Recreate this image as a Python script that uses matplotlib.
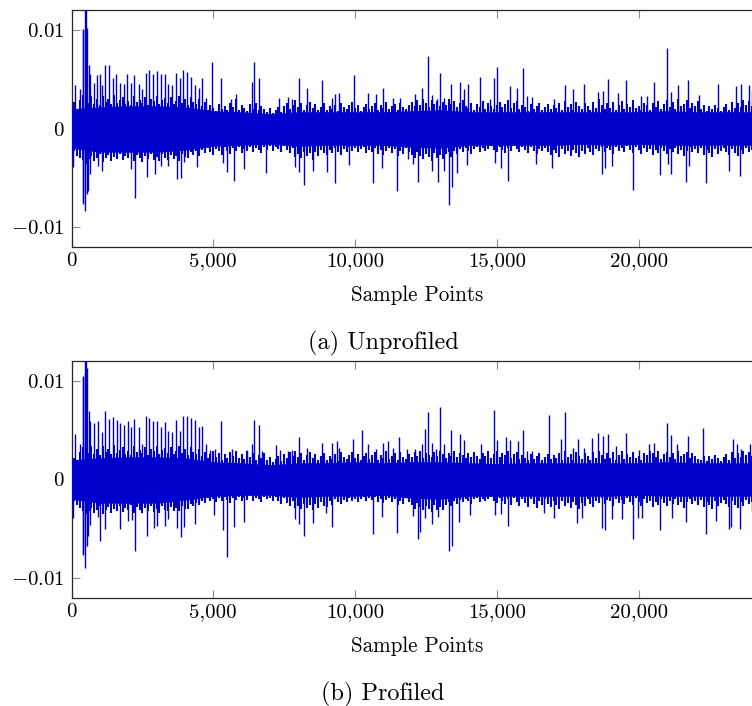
import numpy as np
import matplotlib
matplotlib.use("Agg")
import matplotlib.pyplot as plt

plt.rcParams['mathtext.fontset'] = 'cm'
plt.rcParams['font.family'] = ['cmr10', 'DejaVu Serif']
plt.rcParams['axes.formatter.use_mathtext'] = True
plt.rcParams['axes.unicode_minus'] = False

CORE_STEP = 1000
MID_STEP = 100
a_core_hi = [2.0,2.2,2.3,2.3,2.2,1.8,1.7,1.5,1.7,1.7,1.7,1.7,1.8,1.9,1.7,1.7,1.7,1.7,1.7,1.7,1.7,1.8,1.7,1.7,1.7]
a_core_lo = [-2.0,-2.4,-2.4,-2.4,-2.2,-1.8,-1.7,-1.6,-1.8,-1.7,-1.7,-1.7,-1.9,-2.0,-1.7,-1.7,-1.7,-1.7,-1.6,-1.7,-1.6,-1.7,-1.7,-1.7,-1.7]
b_core_hi = [2.0,2.2,2.3,2.3,2.2,1.8,1.7,1.5,1.7,1.7,1.8,1.7,1.8,1.8,1.7,1.6,1.7,1.7,1.7,1.7,1.7,1.8,1.7,1.7,1.7]
b_core_lo = [-2.0,-2.4,-2.4,-2.4,-2.1,-1.7,-1.6,-1.6,-1.8,-1.7,-1.7,-1.6,-1.9,-2.0,-1.7,-1.7,-1.7,-1.7,-1.7,-1.7,-1.6,-1.7,-1.7,-1.7,-1.7]

a_mid_hi = [2.2,2.7,2.0,2.9,3.4,3.1,2.6,3.3,2.5,3.0,
            2.4,3.3,2.7,3.0,2.5,3.4,2.6,2.9,3.2,2.5,
            2.8,2.4,3.3,2.7,2.9,2.6,3.2,2.4,3.0,2.8,
            3.3,2.5,2.9,3.1,2.6,3.2,2.5,2.8,3.3,2.6,
            3.0,2.4,3.2,2.7,2.5,3.0,2.3,2.7,1.9,2.4,
            2.1,1.8,2.5,2.0,2.3,1.9,2.6,2.2,3.0,1.9,
            2.4,2.1,1.8,2.5,2.0,2.6,1.9,2.3,2.0,1.7,
            2.1,1.6,1.9,2.2,1.7,2.3,2.6,2.0,2.4,2.9,
            2.2,2.6,1.9,2.4,2.7,2.1,2.5,1.9,2.2,2.6,
            1.9,2.3,2.0,2.4,1.8,2.6,2.2,2.0,2.4,2.7,
            2.1,2.4,1.8,2.2,2.5,2.0,2.3,2.6,1.9,2.4,
            2.1,2.7,2.0,2.3,2.5,1.9,2.6,2.2,2.0,2.4,
            2.7,2.3,2.9,2.4,3.0,2.6,2.2,2.9,2.5,2.8,
            2.3,2.7,2.4,3.0,2.5,2.8,2.2,2.6,2.9,2.3,
            2.1,2.6,1.9,2.5,2.2,2.8,2.0,2.6,2.3,2.0,
            2.4,2.7,2.2,2.5,2.9,2.1,2.6,2.8,2.0,2.4,
            2.2,1.8,2.5,2.0,2.3,2.6,1.9,2.2,2.5,2.0,
            2.4,2.1,2.6,1.9,2.8,2.2,2.5,1.9,2.7,2.3,
            2.0,2.6,2.3,1.9,2.7,2.1,3.0,2.4,2.0,2.6,
            2.1,2.7,1.9,2.4,2.8,2.0,2.5,2.2,2.9,2.1,
            2.3,1.9,2.6,2.4,1.9,2.6,2.2,2.8,2.0,2.5,
            2.9,2.2,2.7,2.0,3.0,2.3,2.5,2.9,2.1,2.6,
            2.3,2.8,2.0,2.4,1.8,2.3,2.0,2.4,2.1,1.8,
            2.2,2.5,1.9,2.7,2.1,2.6,2.2,2.9,2.4,2.8,
            2.3]
a_mid_lo = [-2.6,-2.3,-2.8,-3.0,-3.2,-3.6,-3.1,-2.8,-3.3,-3.0,
            -2.6,-3.4,-3.0,-2.7,-3.3,-2.9,-3.1,-2.6,-3.2,-2.8,
            -3.0,-2.5,-3.3,-2.7,-3.0,-3.4,-2.8,-3.1,-2.6,-3.2,
            -2.9,-3.3,-2.6,-3.0,-3.2,-2.7,-3.1,-2.8,-3.3,-2.6,
            -2.9,-3.0,-2.4,-2.7,-2.3,-2.8,-2.2,-2.5,-2.0,-2.4,
            -2.7,-2.1,-2.3,-2.7,-1.9,-2.3,-2.6,-2.0,-2.3,-1.9,
            -2.5,-2.1,-2.3,-1.9,-2.4,-2.0,-2.2,-2.5,-1.9,-2.2,
            -1.8,-2.3,-1.9,-2.1,-2.4,-1.8,-2.2,-2.5,-2.0,-2.9,
            -2.6,-3.0,-2.4,-2.8,-2.5,-3.2,-2.4,-2.8,-2.2,-2.5,
            -2.7,-2.2,-2.5,-2.0,-2.4,-2.7,-2.1,-2.4,-1.9,-2.3,
            -2.0,-2.4,-2.1,-1.9,-2.5,-2.2,-2.4,-2.0,-2.6,-2.2,
            -2.7,-2.3,-2.0,-2.5,-2.1,-2.8,-2.3,-2.6,-2.0,-2.4,
            -2.7,-3.0,-2.4,-2.8,-3.1,-2.6,-2.9,-3.3,-2.5,-3.0,
            -2.7,-3.1,-2.6,-2.4,-2.9,-2.3,-2.6,-2.1,-2.4,-2.0,
            -2.3,-2.6,-2.1,-1.9,-2.4,-2.0,-2.3,-2.1,-1.8,-2.2,
            -2.4,-1.9,-2.2,-2.5,-2.0,-2.3,-1.8,-2.1,-2.4,-1.9,
            -2.2,-2.5,-1.9,-2.3,-2.6,-2.1,-2.3,-2.0,-2.4,-2.7,
            -2.2,-2.5,-2.9,-2.1,-2.6,-2.3,-2.8,-2.2,-2.5,-2.9,
            -2.3,-2.6,-2.0,-2.4,-2.7,-2.1,-2.3,-1.9,-2.4,-2.0,
            -2.2,-2.6,-1.9,-2.3,-2.0,-2.4,-1.8,-2.2,-2.5,-1.9,
            -2.2,-2.6,-2.0,-2.4,-2.1,-2.7,-2.2,-2.5,-2.0,-2.3,
            -2.6,-2.1,-2.4,-2.0,-2.6,-2.2,-2.8,-2.3,-1.9,-2.4,
            -2.1,-2.5,-2.0,-2.7,-2.2,-2.5,-2.9,-2.1,-2.6,-2.3,
            -2.0,-2.4,-2.7,-2.1,-2.5,-2.8,-2.2,-2.6,-2.0,-2.4,
            -2.2]
b_mid_hi = [2.0,2.2,1.9,2.8,3.3,3.0,2.7,3.4,2.6,3.1,
            2.5,3.4,2.8,3.1,2.6,3.5,2.7,3.0,3.3,2.6,
            2.9,2.5,3.4,2.8,3.0,2.7,3.3,2.5,3.1,2.9,
            3.4,2.6,3.0,3.2,2.7,3.3,2.6,2.9,3.4,2.7,
            3.1,2.5,3.3,2.8,2.6,3.1,2.4,2.8,2.2,2.6,
            2.9,2.3,2.7,2.0,2.6,2.2,2.8,2.4,2.9,2.2,
            2.6,2.1,2.9,2.3,2.7,2.0,2.5,2.2,2.7,2.0,
            2.3,1.8,2.1,2.4,1.9,2.6,2.2,2.8,2.4,2.9,
            2.3,2.7,2.0,2.5,2.8,2.2,2.6,2.0,2.4,2.7,
            2.0,2.4,2.1,2.6,1.9,2.8,2.3,2.1,2.5,2.8,
            2.2,2.6,2.0,2.4,2.7,2.1,2.5,2.8,2.0,2.5,
            2.2,2.9,2.1,2.4,2.7,2.0,2.8,2.3,2.1,2.6,
            2.3,2.8,2.4,2.9,2.2,2.7,2.5,2.3,2.8,2.4,
            2.9,2.6,2.2,2.7,2.4,2.9,2.3,2.7,2.5,2.2,
            2.7,2.3,2.8,2.4,2.1,2.7,2.4,2.9,2.2,2.6,
            2.9,2.3,2.7,2.5,2.9,2.2,2.6,2.8,2.1,2.5,
            2.2,2.0,2.6,2.1,2.4,2.7,2.0,2.3,2.6,2.1,
            2.5,2.2,2.7,2.0,2.9,2.3,2.6,2.0,2.8,2.4,
            2.1,2.7,2.4,2.0,2.8,2.2,2.9,2.5,2.1,2.7,
            2.2,2.8,2.0,2.5,2.9,2.1,2.6,2.3,2.8,2.2,
            2.4,2.0,2.7,2.5,2.9,2.7,2.3,2.9,2.1,2.6,
            2.8,2.3,2.7,2.1,2.9,2.4,2.6,2.8,2.2,2.7,
            2.4,2.1,2.0,2.4,1.9,2.4,2.1,2.5,2.2,1.9,
            2.3,2.6,2.0,2.8,2.2,2.7,2.3,2.9,2.5,2.8,
            2.4]
b_mid_lo = [-2.4,-2.2,-2.6,-2.9,-3.2,-3.5,-3.2,-2.9,-3.4,-3.1,
            -2.7,-3.5,-3.1,-2.8,-3.4,-3.0,-3.2,-2.7,-3.3,-2.9,
            -3.1,-2.6,-3.4,-2.8,-3.1,-3.4,-2.9,-3.2,-2.7,-3.3,
            -3.0,-3.4,-2.7,-3.1,-3.2,-2.8,-3.2,-2.9,-3.2,-2.7,
            -3.0,-3.0,-2.5,-2.7,-2.4,-2.6,-2.2,-2.4,-1.9,-2.2,
            -2.0,-2.3,-1.9,-2.2,-1.8,-2.1,-2.4,-1.9,-2.1,-1.8,
            -2.2,-1.9,-2.1,-1.7,-2.2,-1.9,-2.0,-2.3,-1.8,-2.0,
            -1.9,-2.2,-1.8,-2.2,-2.5,-1.9,-2.4,-2.7,-2.2,-2.9,
            -2.7,-3.0,-2.5,-2.9,-2.6,-3.1,-2.5,-2.9,-2.3,-2.7,
            -2.8,-2.2,-2.6,-2.0,-2.3,-2.5,-2.1,-2.3,-1.9,-2.2,
            -2.0,-2.3,-2.0,-1.8,-2.2,-1.9,-2.1,-1.8,-2.3,-2.0,
            -2.4,-2.1,-1.9,-2.3,-2.0,-2.6,-2.2,-2.5,-1.9,-2.3,
            -2.6,-3.0,-2.4,-2.8,-3.1,-2.7,-3.0,-3.3,-2.6,-3.1,
            -2.8,-3.1,-2.6,-2.3,-2.7,-2.2,-2.5,-2.1,-2.3,-2.0,
            -2.2,-2.5,-2.0,-1.9,-2.3,-2.0,-2.2,-2.0,-1.8,-2.2,
            -2.4,-1.9,-2.2,-2.5,-2.0,-2.6,-1.9,-2.3,-2.7,-2.0,
            -2.4,-2.8,-2.0,-2.5,-2.9,-2.2,-2.6,-2.0,-2.5,-2.8,
            -2.2,-2.6,-3.0,-2.2,-2.7,-2.4,-2.9,-2.3,-2.6,-3.0,
            -2.4,-2.7,-2.0,-2.5,-2.8,-2.2,-2.4,-1.9,-2.5,-2.1,
            -2.2,-2.7,-2.0,-2.4,-2.1,-2.5,-1.9,-2.3,-2.6,-1.9,
            -2.3,-2.7,-2.0,-2.4,-2.2,-2.8,-2.3,-2.6,-2.0,-2.4,
            -2.7,-2.2,-2.5,-2.0,-2.6,-2.3,-2.9,-2.3,-2.0,-2.5,
            -2.2,-2.6,-2.1,-2.8,-2.3,-2.6,-3.0,-2.2,-2.7,-2.4,
            -2.1,-2.5,-2.8,-2.2,-2.6,-2.9,-2.3,-2.7,-2.1,-2.5,
            -2.3]

a_top_x = [140,290,390,420,490,510,530,620,670,780,900,1000,1060,1190,1320,1450,1580,1720,1850,1960,2100,2220,2380,2490,2630,2740,2880,3020,3150,3280,3420,3550,3680,3810,3940,4080,4210,4340,4480,4620,4750,4940,5290,5620,5790,6350,6420,6610,7310,7620,7780,8010,8310,8840,9170,9310,9440,9960,10470,10730,10970,11350,11580,12100,12350,12570,12710,12880,13000,13130,13380,13690,13830,14000,14390,14750,14890,15020,15450,15710,15940,16070,16250,17010,17390,17700,18070,18570,18730,18910,19290,19570,20100,20280,20540,21000,21160,21400,21730,22140,22810,23430,23610,23900,23990]
a_top_y = [4.4,4.0,10.0,10.1,12.5,12.5,10.2,6.4,5.5,4.6,5.4,5.5,4.4,6.4,6.4,5.1,5.5,4.6,4.5,5.5,4.6,5.4,4.5,4.0,5.6,5.9,5.5,5.8,5.5,5.5,4.5,4.4,5.6,5.1,5.9,5.7,5.2,4.4,4.1,5.1,3.1,6.7,5.1,3.0,3.5,4.7,6.7,5.1,3.1,3.2,3.0,5.1,4.1,4.9,3.1,3.5,3.6,5.4,3.6,3.5,4.1,3.1,3.1,3.5,4.1,7.3,3.4,3.0,5.6,3.1,4.5,4.7,4.0,4.5,5.2,3.0,5.1,6.2,4.3,4.1,6.1,3.3,3.2,3.0,4.4,4.0,4.5,3.7,3.8,5.0,3.6,4.9,3.3,3.3,4.7,8.2,3.7,4.4,4.9,3.4,4.5,4.3,4.5,4.4,3.9]
a_bot_x = [60,390,420,460,490,530,590,670,940,1060,2100,2230,2680,2930,3150,3410,3720,3860,3960,4430,5340,5470,5740,6070,6870,7890,8040,8190,8500,9010,9310,9780,10620,10940,11470,11880,12030,12210,12710,12930,13130,13310,13430,13600,13960,14930,15160,15390,16390,16960,18700,18800,19070,19820,20770,21030,21160,21670,21790,22380,23180,23580]
a_bot_y = [-3.9,-7.4,-7.6,-6.5,-8.4,-6.6,-6.3,-4.6,-3.8,-4.3,-4.1,-7.0,-4.9,-4.6,-3.8,-3.8,-5.1,-5.0,-3.4,-3.9,-3.5,-4.4,-5.3,-4.1,-4.5,-3.9,-4.4,-5.7,-4.3,-4.4,-5.5,-3.7,-5.5,-4.0,-6.3,-3.1,-3.6,-5.4,-4.3,-5.4,-4.3,-7.7,-5.9,-4.5,-3.7,-3.5,-4.0,-5.3,-3.6,-4.0,-4.6,-4.0,-3.8,-6.2,-4.7,-3.6,-4.6,-5.4,-3.8,-5.5,-4.3,-4.8]

b_top_x = [140,290,390,420,460,490,510,530,620,670,790,920,1060,1190,1320,1450,1590,1720,1850,1990,2100,2220,2380,2500,2630,2740,2880,3020,3150,3280,3420,3550,3690,3820,3950,4080,4210,4340,4490,4620,4750,4900,5070,5290,5660,6200,6350,6420,6610,6730,7210,7350,7630,7780,8010,8300,8840,9170,9350,9440,9930,10230,10470,10730,10970,11160,11350,11550,11820,12100,12350,12470,12570,12710,12860,13000,13130,13390,13690,13830,14450,14890,15020,15310,15450,15730,15940,16070,16250,16840,17280,17390,17700,17860,18070,18370,18570,18750,18910,19190,19570,20010,20370,20550,21000,21140,21340,21730,22280,22670,23340,23470,23610,23930]
b_top_y = [4.6,3.6,10.4,10.5,10.8,12.5,12.5,11.3,6.9,5.9,5.7,5.9,4.8,6.9,6.1,6.3,6.0,5.7,5.5,5.9,5.3,6.1,5.3,3.6,6.4,6.2,5.9,5.9,5.3,5.8,4.9,4.8,6.0,4.9,6.4,6.4,6.2,6.0,5.3,5.4,3.6,3.0,3.1,5.9,3.1,3.0,3.6,6.0,5.5,2.9,3.5,3.0,2.9,3.0,4.3,3.2,3.7,3.7,3.9,3.2,4.1,5.0,3.6,3.1,3.7,3.9,3.2,4.3,3.1,3.1,3.6,5.1,6.8,3.7,3.1,7.3,3.6,5.0,4.6,4.0,3.6,7.0,4.0,4.3,4.0,3.9,5.0,2.9,2.9,6.5,4.1,6.8,3.2,4.1,3.2,4.2,4.7,4.4,4.6,3.4,4.7,3.0,3.6,3.7,5.7,4.5,3.6,4.4,5.2,2.4,4.1,3.6,3.1,3.6]
b_bot_x = [60,390,420,460,490,530,590,670,940,1010,1190,1720,1990,2150,2230,2680,2920,3020,3280,3420,3720,3860,3960,4350,5010,5350,5470,5740,6070,7880,8040,8190,8500,8990,9200,10620,10940,11470,12030,12210,12290,12460,12710,12930,13310,13430,13670,14050,14930,15150,15390,16650,17000,17840,18000,18700,18800,19080,19410,19820,19990,20130,20770,21170,21670,22380,22730,23180,23260,23580,24000]
b_bot_y = [-3.9,-7.5,-7.6,-6.8,-9.0,-6.7,-5.7,-4.6,-3.8,-6.2,-5.0,-5.0,-4.2,-4.1,-7.2,-5.7,-4.9,-4.7,-4.7,-4.0,-4.9,-5.8,-4.8,-4.5,-3.6,-5.1,-7.8,-4.8,-4.3,-4.0,-4.5,-5.7,-4.4,-3.4,-4.8,-5.5,-3.8,-5.4,-3.7,-6.0,-5.3,-3.9,-4.5,-3.8,-7.2,-6.7,-4.3,-3.6,-3.6,-3.5,-4.7,-3.4,-3.9,-4.4,-3.9,-4.9,-5.1,-4.0,-4.0,-6.0,-3.9,-3.9,-5.1,-3.9,-4.3,-5.5,-4.2,-5.0,-4.8,-5.0,-3.2]

x_ticks = [0, 5000, 10000, 15000, 20000]
x_labels = ['0', '5,000', '10,000', '15,000', '20,000']
y_ticks = [-0.01, 0, 0.01]
y_labels = [r'$-0.01$', r'$0$', r'$0.01$']
x_title = 'Sample Points'
captions = ['(a) Unprofiled', '(b) Profiled']

BLUE = '#0000CC'
W, H = 752, 706
fig = plt.figure(figsize=(W/100, H/100), dpi=100)


def panel(top_px, bot_px, core_hi, core_lo, mid_hi, mid_lo, tx, ty, bx, by, caption, cap_y):
    ax = fig.add_axes([71.5/W, 1-bot_px/H, (W-71.5)/W, (bot_px-top_px)/H])
    core_x = np.arange(len(core_hi))*CORE_STEP
    ax.fill_between(core_x, np.array(core_lo)*1e-3, np.array(core_hi)*1e-3,
                    color=BLUE, lw=0, zorder=3)
    mid_x = np.arange(len(mid_hi))*MID_STEP
    ax.vlines(mid_x, np.array(mid_lo)*1e-3, np.array(mid_hi)*1e-3, color=BLUE, lw=1.5, zorder=3)
    ax.vlines(tx, 0, np.array(ty)*1e-3, color=BLUE, lw=1.0, zorder=3)
    ax.vlines(bx, 0, np.array(by)*1e-3, color=BLUE, lw=1.0, zorder=3)
    ax.set_xlim(0, 24000)
    ax.set_ylim(-0.012, 0.012)
    ax.set_xticks(x_ticks, x_labels)
    ax.set_yticks(y_ticks, y_labels)
    ax.tick_params(direction='in', length=6, width=0.8, color='#8a8a8a',
                   top=True, right=False, labelsize=15)
    ax.tick_params(axis='x', pad=4)
    ax.tick_params(axis='y', pad=5)
    ax.spines['right'].set_visible(False)
    for s in ('left', 'top', 'bottom'):
        ax.spines[s].set_linewidth(0.9)
        ax.spines[s].set_color('#262626')
    ax.set_xlabel(x_title, fontsize=15.2)
    ax.xaxis.set_label_coords((417-71.5)/(W-71.5), -48/(bot_px-top_px), transform=ax.transAxes)
    ax.xaxis.label.set_verticalalignment('center')
    fig.text(383/W, 1-cap_y/H, caption, ha='center', va='center', fontsize=17.5)


panel(10, 247, a_core_hi, a_core_lo, a_mid_hi, a_mid_lo, a_top_x, a_top_y, a_bot_x, a_bot_y, captions[0], 343)
panel(361, 598, b_core_hi, b_core_lo, b_mid_hi, b_mid_lo, b_top_x, b_top_y, b_bot_x, b_bot_y, captions[1], 694)
fig.savefig('out.png', dpi=100)
